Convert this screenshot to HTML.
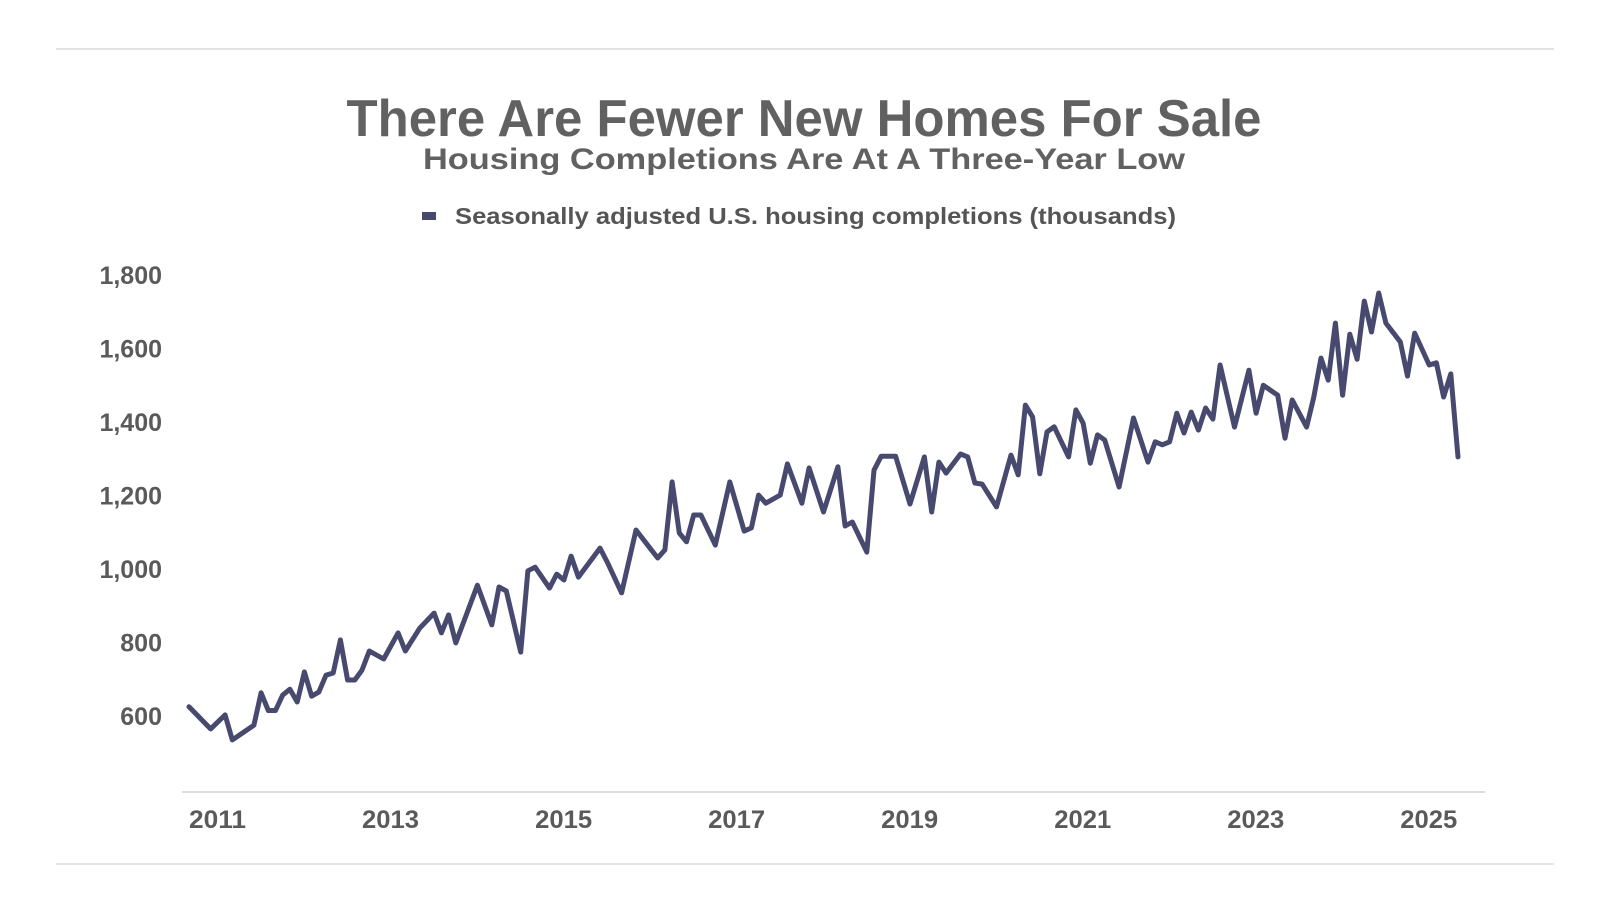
<!DOCTYPE html>
<html><head><meta charset="utf-8"><style>
html,body{margin:0;padding:0;background:#fff;}
svg{display:block;font-family:"Liberation Sans",sans-serif;font-weight:bold;}
</style></head><body>
<svg id="chart" width="1600" height="900" viewBox="0 0 1600 900">
<line x1="56" y1="49" x2="1554" y2="49" stroke="#dcdcdc" stroke-width="1.5"/>
<line x1="56" y1="864" x2="1554" y2="864" stroke="#dcdcdc" stroke-width="1.5"/>
<text x="804" y="136" text-anchor="middle" font-size="52" fill="#616161" textLength="915" lengthAdjust="spacingAndGlyphs">There Are Fewer New Homes For Sale</text>
<text x="804" y="169" text-anchor="middle" font-size="30" fill="#616161" textLength="762" lengthAdjust="spacingAndGlyphs">Housing Completions Are At A Three-Year Low</text>
<g>
<rect x="422" y="212" width="14" height="8" fill="#474a6e"/>
<text x="455" y="224" font-size="23" fill="#555" textLength="721" lengthAdjust="spacingAndGlyphs">Seasonally adjusted U.S. housing completions (thousands)</text>
</g>
<line x1="182" y1="792" x2="1485" y2="792" stroke="#dddddd" stroke-width="2"/>
<g id="yticks"></g>
<g id="xticks"></g>
<path id="series" fill="none" stroke="#474a6e" stroke-width="5" stroke-linejoin="round" stroke-linecap="round"/>
</svg>
<script>
const months = [0,3,5,6,9,10,11,12,13,14,15,16,17,18,19,20,21,22,23,24,25,27,29,30,32,34,35,36,37,40,42,43,44,46,47,48,50,51,52,53,54,57,58,60,62,64,65,66,67,68,69,70,71,73,75,77,78,79,80,82,83,85,86,88,90,91,92,94,95,96,98,100,102,103,104,105,107,108,109,110,112,114,115,116,117,118,119,120,122,123,124,125,126,127,129,131,133,134,135,136,137,138,139,140,141,142,143,145,147,148,149,151,152,153,155,156,157,158,159,160,161,162,163,164,165,166,168,169,170,172,173,174,175,176];
const values = [625,565,603,535,575,663,615,615,657,673,638,720,654,665,711,717,807,698,698,725,777,755,826,777,839,880,826,875,799,956,848,951,940,774,995,1005,948,986,970,1035,978,1057,1019,935,1106,1055,1030,1052,1237,1098,1074,1147,1147,1065,1237,1103,1112,1201,1179,1201,1286,1179,1275,1155,1278,1117,1128,1046,1269,1307,1307,1177,1305,1155,1291,1261,1313,1305,1234,1231,1169,1310,1256,1446,1414,1259,1373,1387,1305,1433,1397,1288,1365,1351,1223,1411,1291,1346,1338,1346,1424,1370,1427,1378,1438,1408,1555,1386,1541,1424,1500,1473,1356,1460,1386,1468,1574,1514,1669,1473,1639,1571,1729,1645,1751,1669,1618,1525,1642,1555,1561,1468,1531,1305];
const yTicks = [600,800,1000,1200,1400,1600,1800];
const yTickLabels = ["600","800","1,000","1,200","1,400","1,600","1,800"];
const xYears = [2011,2013,2015,2017,2019,2021,2023,2025];

const NS = "http://www.w3.org/2000/svg";
const X0 = 189, X1 = 1458, M0 = 0, M1 = 176;
const Y0 = 716, Y1 = 275, V0 = 600, V1 = 1800;
function xScale(m){ return X0 + (m - M0) * (X1 - X0) / (M1 - M0); }
function yScale(v){ return Y0 + (v - V0) * (Y1 - Y0) / (V1 - V0); }

const yg = document.getElementById('yticks');
yTicks.forEach((v,i)=>{
  const t = document.createElementNS(NS,'text');
  t.setAttribute('x',162); t.setAttribute('y',yScale(v)+9);
  t.setAttribute('text-anchor','end'); t.setAttribute('font-size','25'); t.setAttribute('fill','#5a5a5a');
  
  
  t.textContent = yTickLabels[i];
  yg.appendChild(t);
});
const xg = document.getElementById('xticks');
xYears.forEach(y=>{
  const t = document.createElementNS(NS,'text');
  t.setAttribute('x',xScale((y-2011)*12)); t.setAttribute('y',828);
  t.setAttribute('font-size','25'); t.setAttribute('fill','#5a5a5a');
  t.setAttribute('textLength','57'); t.setAttribute('lengthAdjust','spacingAndGlyphs');
  
  
  t.textContent = y;
  xg.appendChild(t);
});
let d = '';
months.forEach((m,i)=>{ d += (i?'L':'M') + xScale(m).toFixed(1) + ',' + yScale(values[i]).toFixed(1); });
document.getElementById('series').setAttribute('d', d);
</script>
</body></html>
